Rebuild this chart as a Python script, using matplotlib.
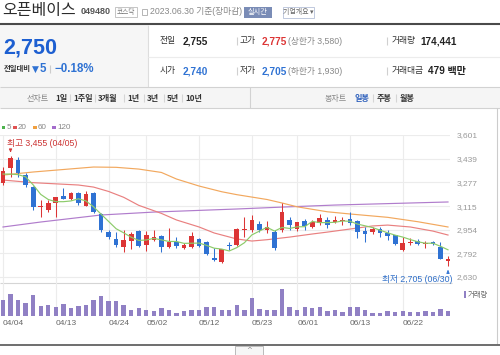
import matplotlib
matplotlib.use("Agg")
import matplotlib.pyplot as plt
from matplotlib.patches import Rectangle

KR = ['Noto Sans CJK KR', 'DejaVu Sans']
NUM = ['Liberation Sans', 'Noto Sans CJK KR', 'DejaVu Sans']

# ---- data ----
dates = ['04/04', '04/05', '04/06', '04/07', '04/10', '04/11', '04/12', '04/13', '04/14', '04/17',
         '04/18', '04/19', '04/20', '04/21', '04/24', '04/25', '04/26', '04/27', '04/28',
         '05/02', '05/03', '05/04', '05/08', '05/09', '05/10', '05/11', '05/12', '05/15', '05/16',
         '05/17', '05/18', '05/19', '05/22', '05/23', '05/24', '05/25', '05/26', '05/30', '05/31',
         '06/01', '06/02', '06/05', '06/07', '06/08', '06/09', '06/12', '06/13', '06/14', '06/15',
         '06/16', '06/19', '06/20', '06/21', '06/22', '06/23', '06/26', '06/27', '06/28', '06/29', '06/30']
opens = [3275, 3375, 3430, 3325, 3245, 3110, 3090, 3135, 3185, 3165, 3205, 3115, 3205, 3060, 2935,
         2890, 2835, 2875, 2945, 2850, 2885, 2910, 2835, 2870, 2830, 2835, 2890, 2870, 2760, 2730,
         2850, 2850, 2950, 2950, 2990, 2950, 2935, 2950, 3020, 2960, 3015, 2970, 3000, 3020, 3005,
         3015, 3025, 3015, 2945, 2935, 2960, 2930, 2915, 2815, 2860, 2875, 2855, 2870, 2835, 2740]
highs = [3380, 3455, 3450, 3340, 3250, 3155, 3155, 3180, 3240, 3210, 3210, 3220, 3210, 3065, 2950,
         2935, 2950, 2935, 2950, 2945, 2950, 2915, 2965, 2905, 2860, 2935, 2895, 2875, 2830, 2815,
         2870, 2965, 3040, 3055, 3015, 3015, 2950, 3135, 3040, 3005, 3025, 3020, 3060, 3040, 3045,
         3040, 3075, 3020, 2970, 2970, 2970, 2950, 2915, 2905, 2895, 2890, 2875, 2875, 2870, 2775]
lows = [3260, 3315, 3315, 3245, 3090, 3040, 3075, 3040, 3160, 3155, 3120, 3115, 3065, 2935, 2890,
        2835, 2800, 2820, 2835, 2810, 2875, 2800, 2830, 2830, 2820, 2830, 2835, 2780, 2740, 2725,
        2815, 2840, 2905, 2935, 2935, 2930, 2815, 2935, 2950, 2945, 2950, 2965, 2985, 2965, 3000,
        2985, 2985, 2895, 2870, 2925, 2905, 2885, 2850, 2810, 2850, 2850, 2830, 2850, 2750, 2705]
closes = [3355, 3445, 3340, 3260, 3110, 3115, 3135, 3175, 3165, 3205, 3135, 3195, 3075, 2950, 2905,
          2850, 2885, 2925, 2840, 2915, 2905, 2835, 2870, 2840, 2850, 2910, 2840, 2785, 2745, 2820,
          2840, 2960, 2955, 3020, 2950, 2970, 2830, 3075, 2985, 3005, 2980, 3005, 3035, 2985, 3020,
          3020, 3000, 2935, 2925, 2960, 2930, 2910, 2855, 2860, 2870, 2855, 2860, 2855, 2755, 2750]
volumes = [603000, 844000, 630000, 509000, 831000, 402000, 429000, 362000, 482000, 308000,
           402000, 429000, 630000, 764000, 563000, 563000, 429000, 228000, 308000, 228000,
           201000, 308000, 241000, 134000, 201000, 228000, 241000, 335000, 362000, 228000,
           241000, 429000, 228000, 710000, 268000, 241000, 241000, 1045000, 362000, 228000,
           335000, 308000, 335000, 201000, 228000, 174000, 335000, 335000, 228000, 134000,
           134000, 201000, 174000, 201000, 174000, 174000, 201000, 174000, 268000, 174441]
ma5 = [3334, 3334, 3330, 3315, 3260, 3195, 3160, 3145, 3145, 3150, 3165, 3150, 3110, 3060, 3010,
       2960, 2932, 2902, 2880, 2883, 2894, 2884, 2873, 2873, 2860, 2861, 2862, 2846, 2827, 2821,
       2808, 2831, 2864, 2918, 2944, 2970, 2944, 2969, 2962, 2973, 2974, 3010, 3002, 3002, 3004,
       3013, 3011, 2992, 2980, 2968, 2950, 2932, 2916, 2903, 2886, 2871, 2861, 2861, 2840, 2816]
ma20_idx = [0, 4, 10, 12, 14, 16, 18, 21, 23, 26, 28, 31, 33, 35, 38, 41, 43, 46, 49, 51, 54, 57, 59]
ma20 = [3293, 3275, 3259, 3245, 3215, 3175, 3120, 3065, 3020, 2972, 2931, 2890, 2876, 2885, 2903,
        2924, 2937, 2958, 2979, 2985, 2972, 2944, 2917]
ma60_idx = [0, 4, 8, 12, 15, 18, 21, 23, 26, 29, 31, 35, 37, 39, 43, 46, 51, 55, 59]
ma60 = [3327, 3348, 3365, 3382, 3380, 3368, 3345, 3300, 3252, 3213, 3193, 3160, 3136, 3110, 3076,
        3061, 3038, 3008, 2972]
ma120_idx = [0, 5, 13, 20, 31, 37, 44, 59]
ma120 = [2972, 3006, 3054, 3074, 3095, 3108, 3122, 3143]
tick_dates = ['04/04', '04/13', '04/24', '05/02', '05/12', '05/23', '06/01', '06/13', '06/22']
price_ticks = [2630, 2792, 2954, 3115, 3277, 3439, 3601]

RED = '#dc3535'
BLUE = '#2f72d3'

fig = plt.figure(figsize=(5, 3.55), dpi=100)
bg = fig.add_axes([0, 0, 1, 1])
bg.set_xlim(0, 500)
bg.set_ylim(355, 0)
bg.axis('off')


def txt(x, y, s, size=6.5, color='#333', weight='normal', fam=KR, ha='left'):
    bg.text(x, y, s, fontsize=size, color=color, fontweight=weight, family=fam,
            ha=ha, va='center')


def hline(y, x0, x1, color='#ddd', lw=0.8):
    bg.plot([x0, x1], [y, y], color=color, lw=lw, solid_capstyle='butt')


def vline(x, y0, y1, color='#ddd', lw=0.8):
    bg.plot([x, x], [y0, y1], color=color, lw=lw, solid_capstyle='butt')


# header
txt(2, 10, '오픈베이스', size=11.5, color='#2b2b2b')
txt(81, 12, '049480', size=6.5, color='#555', weight='bold', fam=NUM)
bg.add_patch(Rectangle((115, 7), 22, 10, fc='white', ec='#bbbbbb', lw=0.6))
txt(126, 12, '코스닥', size=4.8, color='#777', ha='center')
bg.add_patch(Rectangle((142, 9), 5, 5.5, fc='white', ec='#aaaaaa', lw=0.6))
txt(150, 12, '2023.06.30 기준(장마감)', size=6.3, color='#888', fam=NUM)
bg.add_patch(Rectangle((244, 6.5), 28, 11, fc='#7a8cb6', ec='none'))
txt(258, 12, '실시간', size=5.2, color='white', ha='center')
bg.add_patch(Rectangle((283, 6.5), 31, 11, fc='white', ec='#b5c0d8', lw=0.6))
txt(298, 12, '기업개요 ▾', size=5, color='#666', ha='center')
hline(23.5, 0, 500, color='#4a4a4a', lw=1.5)

# price summary
bg.add_patch(Rectangle((0, 24.5), 148, 62.5, fc='#f6f6f6', ec='none'))
vline(148, 24.5, 87, color='#dddddd')
hline(57, 148, 500, color='#ececec')
txt(3, 48, '2,750', size=15.5, color='#1d5fd1', weight='bold', fam=NUM)
txt(4, 69, '전일대비', size=5.3, color='#333', weight='bold')
txt(32, 69, '▼', size=6.5, color=BLUE, fam=['DejaVu Sans'])
txt(39.5, 69, '5', size=8.3, color=BLUE, weight='bold', fam=NUM)
vline(50, 65, 73, color='#cccccc')
txt(55, 69, '−0.18%', size=8.3, color=BLUE, weight='bold', fam=NUM)

rows = [(41, '전일', '2,755', '#222', '고가', '2,775', RED, '(상한가 3,580)', '거래량', '174,441'),
        (71, '시가', '2,740', BLUE, '저가', '2,705', BLUE, '(하한가 1,930)', '거래대금', '479 백만')]
for y, l1, v1, c1, l2, v2, c2, note, l3, v3 in rows:
    txt(160, y, l1, size=6.3, color='#333')
    txt(183, y, v1, size=7.2, color=c1, weight='bold', fam=NUM)
    vline(237, y - 4, y + 4, color='#d0d0d0')
    txt(240, y, l2, size=6.3, color='#333')
    txt(262, y, v2, size=7.2, color=c2, weight='bold', fam=NUM)
    txt(288, y, note, size=6.3, color='#888', fam=NUM)
    vline(387, y - 4, y + 4, color='#d0d0d0')
    txt(392, y, l3, size=6.3, color='#333')
    txt(420 if l3 == '거래량' else 428, y, v3, size=7.2, color='#222', weight='bold', fam=NUM)

# toolbar
bg.add_patch(Rectangle((0, 87), 500, 21, fc='#f5f5f5', ec='none'))
hline(87, 0, 500, color='#d2d2d2')
hline(108, 0, 500, color='#d2d2d2')
vline(250, 87, 108, color='#d2d2d2')
txt(27, 98, '선차트', size=5.8, color='#888')
periods = [(55, '1일'), (73, '1주일'), (98, '3개월'), (127, '1년'), (147, '3년'), (167, '5년'), (185, '10년')]
for k, (x, s) in enumerate(periods):
    txt(x, 98, s, size=5.8, color='#333', weight='bold')
    if k:
        vline(x - 3.5, 94, 102, color='#d5d5d5')
txt(325, 98, '봉차트', size=5.8, color='#888')
for k, (x, s) in enumerate([(355, '일봉'), (377, '주봉'), (400, '월봉')]):
    txt(x, 98, s, size=5.8, color='#2a5dbb' if k == 0 else '#333', weight='bold')
    if k:
        vline(x - 4, 94, 102, color='#d5d5d5')

# frame of the chart
vline(497, 108, 344, color='#cccccc')
hline(283, 0, 452, color='#d5d5d5')
hline(344.5, 0, 500, color='#555555', lw=1.2)
bg.add_patch(Rectangle((235, 345.5), 28, 9, fc='#f6f6f6', ec='#b0b0b0', lw=0.6))
txt(249, 350, '^', size=5, color='#888', fam=['DejaVu Sans'], ha='center')

# legend
for x, c, s in [(1.5, '#4db34d', '5'), (13, '#e05252', '20'), (33, '#f0a040', '60'), (52, '#a46ccc', '120')]:
    bg.add_patch(Rectangle((x, 125.5), 3.6, 3.6, fc=c, ec='none'))
    txt(x + 5, 127.5, s, size=5.8, color='#888', fam=NUM)

# ---- price chart ----
s = 445 / 59
ax = fig.add_axes([0, 1 - 283 / 355, 450 / 500, 148 / 355])
ax.patch.set_alpha(0)
ax.set_xlim(-3 / s, 447 / s)
ax.set_ylim(3601 - 148 * 971 / 142, 3601)
for sp in ax.spines.values():
    sp.set_visible(False)

tick_idx = [dates.index(d) for d in tick_dates]
for i in tick_idx:
    ax.axvline(i, color='#ececec', lw=0.8, zorder=0)
for p in price_ticks:
    ax.axhline(p, color='#ececec', lw=0.8, zorder=0)

ax.plot(ma120_idx, ma120, color='#b07ccc', lw=0.85, zorder=2)
ax.plot(ma60_idx, ma60, color='#f2a85e', lw=0.85, zorder=2)
ax.plot(ma20_idx, ma20, color='#e98080', lw=0.85, zorder=2)

xs = list(range(len(dates)))
cols = [RED if c >= o else BLUE for o, c in zip(opens, closes)]
ax.vlines(xs, lows, highs, colors=cols, lw=0.75, zorder=3)
bodies = [max(abs(c - o), 6) for o, c in zip(opens, closes)]
bottoms = [min(o, c) for o, c in zip(opens, closes)]
ax.bar(xs, bodies, bottom=bottoms, width=0.62, color=cols, zorder=3)
ax.plot(xs, ma5, color='#8ccb6a', lw=0.85, zorder=4)

hi = max(highs)
hi_i = highs.index(hi)
ax.annotate('', xy=(hi_i, hi + 8), xytext=(hi_i, hi + 55),
            arrowprops=dict(arrowstyle='-|>', color='#d43a3a', lw=0.8, mutation_scale=4))
ax.annotate(f'최고 {hi:,} ({dates[hi_i]})', xy=(hi_i, hi), xytext=(-4, 13),
            textcoords='offset pixels', fontsize=6.3, color='#cc3333', family=NUM,
            ha='left', va='center')
lo = min(lows)
lo_i = lows.index(lo)
ax.annotate('', xy=(lo_i, lo - 8), xytext=(lo_i, lo - 55),
            arrowprops=dict(arrowstyle='-|>', color='#3a7ad6', lw=0.8, mutation_scale=4))
ax.annotate(f'최저 {lo:,} ({dates[lo_i]})', xy=(lo_i, lo), xytext=(4, -13),
            textcoords='offset pixels', fontsize=6.3, color='#2f6fc9', family=NUM,
            ha='right', va='center')

ax.set_xticks([])
ax.yaxis.tick_right()
ax.set_yticks(price_ticks)
ax.set_yticklabels([f'{p:,}' for p in price_ticks], family=NUM)
ax.tick_params(axis='y', length=0, pad=5, labelsize=6, labelcolor='#999999')

# ---- volume ----
av = fig.add_axes([0, 1 - 316 / 355, 450 / 500, 33 / 355])
av.patch.set_alpha(0)
av.set_xlim(-3 / s, 447 / s)
av.set_ylim(0, max(volumes) * 33 / 27)
for sp in av.spines.values():
    sp.set_visible(False)
for i in tick_idx:
    av.axvline(i, color='#ececec', lw=0.8, zorder=0)
av.bar(xs, volumes, width=0.58, color='#9080c4', zorder=2)
av.set_yticks([])
av.set_xticks(tick_idx)
av.set_xticklabels(tick_dates, family=NUM)
for lb in av.get_xticklabels():
    lb.set_ha('left')
av.tick_params(axis='x', length=0, pad=3, labelsize=6, labelcolor='#666666')
bg.add_patch(Rectangle((464, 291), 2, 6.5, fc='#9080c4', ec='none'))
txt(468, 294.5, '거래량', size=5.3, color='#666')

fig.savefig('out.png', dpi=100)
